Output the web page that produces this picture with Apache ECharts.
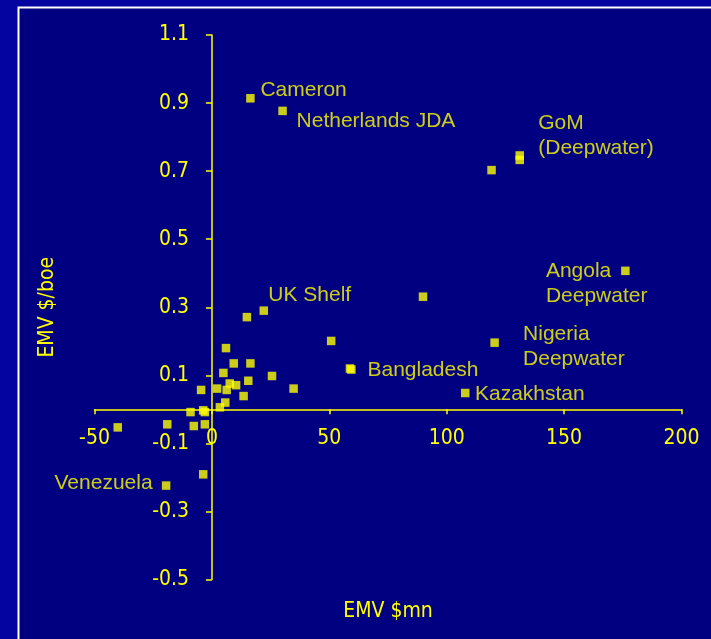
<!DOCTYPE html>
<html><head><meta charset="utf-8">
<script src="https://cdn.jsdelivr.net/npm/echarts@6/dist/echarts.min.js"></script>
<style>html,body{margin:0;padding:0;background:#0404a0;}#c{width:711px;height:639px;}</style>
</head><body><div id="c"></div>
<script>
// EMV $mn (x) and EMV $/boe (y)
const emvMn = [16.4, 30.1, 131.1, 131.1, 119.1, 176.1, 89.9, 22.1, 14.9, 120.4, 50.8, 58.8, 59.4, 107.9, -19.5,
  6.0, 9.3, 16.4, 4.9, 25.6, 15.5, 7.6, 10.3, -4.6, 2.2, 6.3, 34.8, 13.5, 5.7, 3.4, -9.1, -3.7, -3.0, -19.0, -7.7, -3.0, -3.7, -40.1];
const emvPerBoe = [0.914, 0.877, 0.746, 0.733, 0.703, 0.407, 0.331, 0.290, 0.271, 0.196, 0.201, 0.120, 0.117, 0.048, -0.224,
  0.180, 0.135, 0.135, 0.107, 0.098, 0.084, 0.076, 0.071, 0.057, 0.061, 0.057, 0.061, 0.039, 0.020, 0.006, -0.008, -0.003, -0.008, -0.044, -0.049, -0.044, -0.191, -0.053];
const pointNames = ['Cameron', 'Netherlands JDA', 'GoM\n(Deepwater)', '', '', 'Angola\nDeepwater', '', 'UK Shelf', '', 'Nigeria\nDeepwater', '', 'Bangladesh', '', 'Kazakhstan', 'Venezuela'];
const xTicks = [-50, 0, 50, 100, 150, 200];
const yTicks = [-0.5, -0.3, -0.1, 0.1, 0.3, 0.5, 0.7, 0.9, 1.1];

// label placement relative to the marker centre (pixels)
const labelLayout = {
  'Cameron': [10, -8, 'left'],
  'Netherlands JDA': [14, 10, 'left'],
  'GoM\n(Deepwater)': [18.5, -19.5, 'left'],
  'Angola\nDeepwater': [-79.5, 13, 'left'],
  'UK Shelf': [4.5, -15, 'left'],
  'Nigeria\nDeepwater': [28.5, 4, 'left'],
  'Bangladesh': [17.5, 1.5, 'left'],
  'Kazakhstan': [9.7, 0.7, 'left'],
  'Venezuela': [-13.5, -2.3, 'right']
};

const yellow = '#ffff00';
const tickFont = 'Liberation Sans Narrow, DejaVu Sans Condensed, sans-serif';

const data = emvMn.map((x, i) => {
  const item = { value: [x, emvPerBoe[i]] };
  const n = pointNames[i];
  if (n) {
    const l = labelLayout[n];
    item.label = { show: true, formatter: n, position: 'inside', offset: [l[0], l[1]], align: l[2], verticalAlign: 'middle' };
  }
  return item;
});

const chart = echarts.init(document.getElementById('c'), null, { renderer: 'canvas' });
chart.setOption({
  animation: false,
  backgroundColor: '#0404a0',
  graphic: [{
    type: 'rect', z: -10, silent: true,
    shape: { x: 18.5, y: 7.5, width: 720, height: 660 },
    style: { fill: '#000080', stroke: '#ffffff', lineWidth: 2 }
  }],
  grid: { left: 94.5, right: 29.5, top: 35, bottom: 59.5, containLabel: false, outerBoundsMode: 'none' },
  xAxis: {
    type: 'value',
    min: xTicks[0], max: xTicks[xTicks.length - 1], interval: xTicks[1] - xTicks[0],
    name: 'EMV $mn', nameLocation: 'middle', nameGap: 22,
    nameTextStyle: { color: yellow, fontFamily: tickFont, fontSize: 21 },
    axisLine: { onZero: true, lineStyle: { color: yellow, width: 1.5 } },
    axisTick: { show: true, length: 5, lineStyle: { color: yellow, width: 1.5 } },
    axisLabel: { color: yellow, fontFamily: tickFont, fontSize: 21, margin: -151 },
    splitLine: { show: false }
  },
  yAxis: {
    type: 'value',
    min: yTicks[0], max: yTicks[yTicks.length - 1], interval: yTicks[1] - yTicks[0],
    name: 'EMV $/boe', nameLocation: 'middle', nameGap: 36,
    nameTextStyle: { color: yellow, fontFamily: tickFont, fontSize: 21 },
    axisLine: { onZero: true, lineStyle: { color: yellow, width: 1.5 } },
    axisTick: { show: true, length: 6, lineStyle: { color: yellow, width: 1.5 } },
    axisLabel: { color: yellow, fontFamily: tickFont, fontSize: 21, margin: -94.5, formatter: v => (Math.round(v * 10) / 10).toFixed(1) },
    splitLine: { show: false }
  },
  series: [{
    type: 'scatter',
    symbol: 'rect',
    symbolSize: 8.5,
    itemStyle: { color: yellow },
    label: { color: yellow, fontFamily: 'Liberation Sans, Arial, sans-serif', fontSize: 21, lineHeight: 25 },
    emphasis: { disabled: true },
    data: data
  }]
});
</script>
</body></html>
